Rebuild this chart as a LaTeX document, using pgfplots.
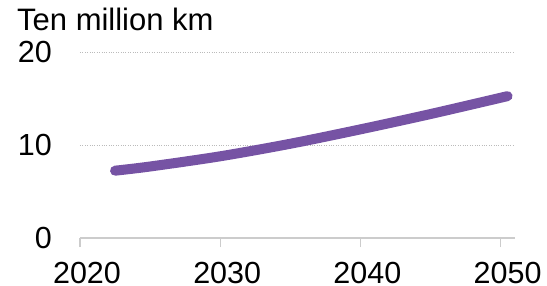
\documentclass[border=0pt]{standalone}
\usepackage{fontspec}
\setmainfont{Liberation Sans}
\usepackage{pgfplots}
\pgfplotsset{compat=1.18}
\definecolor{linepurple}{HTML}{7653A4}
\definecolor{axisgrey}{HTML}{CCCCCC}
\definecolor{gridgrey}{HTML}{BBBBBB}
\begin{document}
\begin{tikzpicture}
\begin{axis}[
  scale only axis,
  width=435bp, height=185.7bp,
  xmin=2020, xmax=2051.03,
  ymin=0, ymax=20,
  xtick={2020,2030,2040,2050},
  ytick={0,10,20},
  /pgf/number format/assume math mode=true,
  xticklabel={\pgfmathprintnumber[1000 sep={}]{\tick}},
  tick label style={font=\fontsize{30.5bp}{36bp}\selectfont},
  yticklabel style={anchor=east, inner sep=0pt, xshift=-28bp},
  xticklabel style={anchor=north, inner sep=0pt, yshift=-24.5bp, xshift=7bp},
  axis x line*=bottom,
  axis y line*=left,
  x axis line style={draw=axisgrey, line width=1.5bp, -},
  y axis line style={draw=none},
  ytick style={draw=none},
  xtick style={draw=axisgrey, line width=1.2bp, yshift=-9bp},
  major tick length=9bp,
  tick align=inside,
  ymajorgrids,
  grid style={dotted, gridgrey, line width=0.8bp},
  clip=false,
]
\addplot[linepurple, line width=10bp, line cap=round, smooth] coordinates {
  (2022.5,7.25) (2025,7.7) (2030,8.8) (2035,10.15) (2040,11.7)
  (2045,13.35) (2050.5,15.28)
};
\end{axis}
\node[anchor=base west, inner sep=0pt, font=\fontsize{31bp}{36bp}\selectfont] at (-63bp,207bp) {Ten million km};
\pgfresetboundingbox
\path[use as bounding box] (-80bp,-48bp) rectangle (467bp,238bp);
\end{tikzpicture}
\end{document}
